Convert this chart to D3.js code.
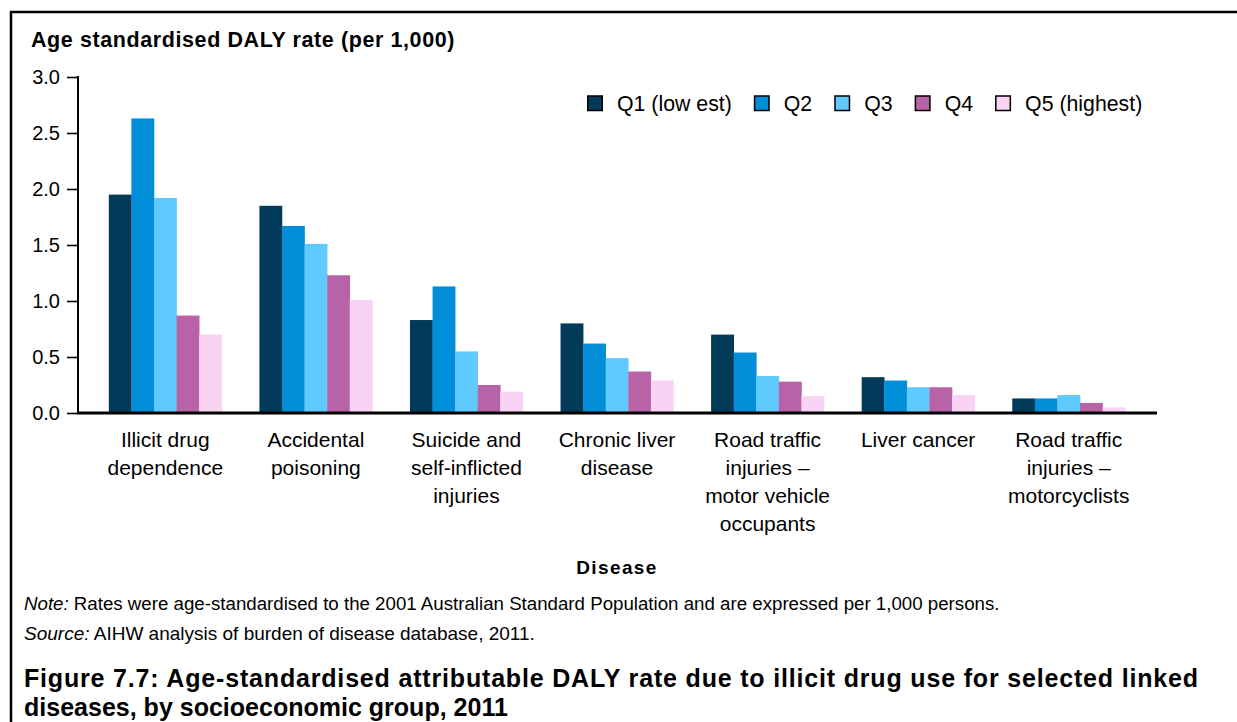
<!DOCTYPE html>
<html>
<head>
<meta charset="utf-8">
<script src="https://cdn.jsdelivr.net/npm/d3@7"></script>
<style>
  html, body { margin: 0; padding: 0; background: #fff; }
  svg { display: block; }
  text { font-family: "Liberation Sans", Arial, Helvetica, sans-serif; fill: #000; }
</style>
</head>
<body>
<svg id="chart" width="1237" height="722"></svg>
<script>
const categories = [
  ["Illicit drug", "dependence"],
  ["Accidental", "poisoning"],
  ["Suicide and", "self-inflicted", "injuries"],
  ["Chronic liver", "disease"],
  ["Road traffic", "injuries –", "motor vehicle", "occupants"],
  ["Liver cancer"],
  ["Road traffic", "injuries –", "motorcyclists"]
];
const seriesNames = ["Q1 (low est)", "Q2", "Q3", "Q4", "Q5 (highest)"];
const q1 = [1.95, 1.85, 0.83, 0.80, 0.70, 0.32, 0.13];
const q2 = [2.63, 1.67, 1.13, 0.62, 0.54, 0.29, 0.13];
const q3 = [1.92, 1.51, 0.55, 0.49, 0.33, 0.23, 0.16];
const q4 = [0.87, 1.23, 0.25, 0.37, 0.28, 0.23, 0.09];
const q5 = [0.70, 1.01, 0.19, 0.29, 0.15, 0.16, 0.05];
const yTicks = [0, 0.5, 1.0, 1.5, 2.0, 2.5, 3.0];
const colors = ["#013B59", "#018ED9", "#60C9FE", "#B862A7", "#F9D3F3"];

const series = [q1, q2, q3, q4, q5];
const catKeys = categories.map(c => c.join(" "));

const svg = d3.select("#chart");

// scale a text's font size so that it spans the given width
function fitWidth(t, width) {
  const fs = parseFloat(t.attr("font-size"));
  const w = t.node().getComputedTextLength();
  t.attr("font-size", (fs * width / w).toFixed(2));
}
// adjust letter spacing so that a text spans the given width
function spreadWidth(t, width) {
  const w = t.node().getComputedTextLength();
  const n = t.text().length;
  t.attr("letter-spacing", ((width - w) / (n - 1)).toFixed(3));
}

// outer frame
svg.append("path")
  .attr("d", "M11,730 L11,12 L1250,12")
  .attr("fill", "none").attr("stroke", "#000").attr("stroke-width", 2.5);

const x0 = d3.scaleBand().domain(catKeys).range([90, 1144]).paddingInner(0.25).paddingOuter(0.125);
const x1 = d3.scaleBand().domain(seriesNames).range([0, x0.bandwidth()]);
const y = d3.scaleLinear().domain([0, 3]).range([413, 77]);

// bars
const groups = svg.append("g").selectAll("g")
  .data(catKeys).join("g")
  .attr("transform", d => `translate(${x0(d)},0)`);
groups.selectAll("rect")
  .data((d, i) => series.map((s, j) => ({ name: seriesNames[j], v: s[i], j })))
  .join("rect")
  .attr("x", d => x1(d.name))
  .attr("width", x1.bandwidth() + 0.3)
  .attr("y", d => y(d.v))
  .attr("height", d => y(0) - y(d.v))
  .attr("fill", d => colors[d.j]);

// y axis
const yAxis = d3.axisLeft(y).tickValues(yTicks).tickFormat(d3.format(".1f")).tickSize(11).tickPadding(7);
const yg = svg.append("g").attr("transform", "translate(78,0)").call(yAxis);
yg.select(".domain").remove();
yg.selectAll(".tick line").attr("stroke", "#000").attr("stroke-width", 1.6);
yg.selectAll(".tick text").attr("font-size", 20).attr("font-family", "'Liberation Sans', Arial, sans-serif").attr("fill", "#000");
svg.append("line").attr("x1", 78).attr("x2", 78).attr("y1", 76).attr("y2", 414)
  .attr("stroke", "#000").attr("stroke-width", 2);

// x axis line
svg.append("line").attr("x1", 77).attr("x2", 1157).attr("y1", 413).attr("y2", 413)
  .attr("stroke", "#000").attr("stroke-width", 3);

// category labels
const xg = svg.append("g");
categories.forEach((lines, i) => {
  const cx = x0(catKeys[i]) + x0.bandwidth() / 2;
  const t = xg.append("text").attr("text-anchor", "middle").attr("font-size", 21);
  lines.forEach((ln, k) => {
    t.append("tspan").attr("x", cx).attr("y", 447 + k * 28).text(ln);
  });
});

// axis titles
const yt = svg.append("text").attr("x", 31).attr("y", 47).attr("font-size", 19).attr("font-weight", "bold")
  .attr("letter-spacing", 0.6)
  .text("Age standardised DALY rate (per 1,000)");
fitWidth(yt, 427);
svg.append("text").attr("x", 617).attr("y", 574).attr("text-anchor", "middle")
  .attr("font-size", 19).attr("font-weight", "bold").attr("letter-spacing", 1.4)
  .text("Disease");

// legend
const legend = svg.append("g");
let lx = 587;
seriesNames.forEach((name, j) => {
  legend.append("rect").attr("x", lx + 0.75).attr("y", 96).attr("width", 14.5).attr("height", 14.5)
    .attr("fill", colors[j]).attr("stroke", "#000").attr("stroke-width", 1.5);
  const t = legend.append("text").attr("x", lx + 30).attr("y", 111).attr("font-size", 21.3).text(name);
  const w = t.node().getComputedTextLength();
  lx = lx + 30 + w + 22;
});

// notes
const note = svg.append("text").attr("x", 24).attr("y", 610).attr("font-size", 16);
note.append("tspan").attr("font-style", "italic").text("Note:");
note.append("tspan").text(" Rates were age-standardised to the 2001 Australian Standard Population and are expressed per 1,000 persons.");
fitWidth(note, 976);
const src = svg.append("text").attr("x", 24).attr("y", 640).attr("font-size", 16);
src.append("tspan").attr("font-style", "italic").text("Source:");
src.append("tspan").text(" AIHW analysis of burden of disease database, 2011.");
fitWidth(src, 511);

// figure title
const t2 = svg.append("text").attr("x", 24).attr("y", 716).attr("font-size", 24).attr("font-weight", "bold")
  .text("diseases, by socioeconomic group, 2011");
fitWidth(t2, 484);
const t1 = svg.append("text").attr("x", 24).attr("y", 687).attr("font-size", t2.attr("font-size")).attr("font-weight", "bold")
  .text("Figure 7.7: Age-standardised attributable DALY rate due to illicit drug use for selected linked");
spreadWidth(t1, 1174);
</script>
</body>
</html>
